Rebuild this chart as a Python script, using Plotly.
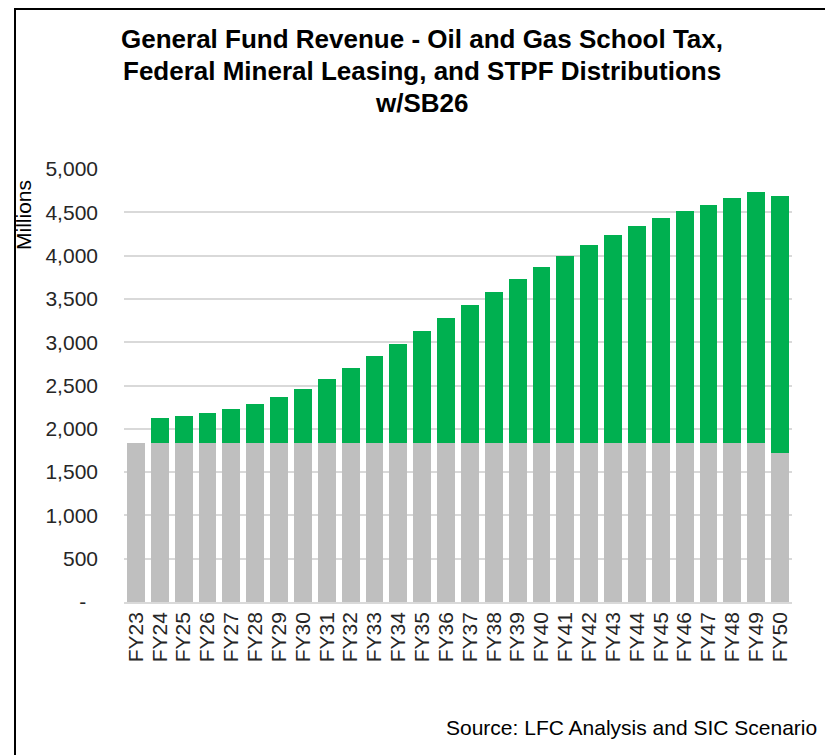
import plotly.graph_objects as go

FONT = "Arial, Liberation Sans, sans-serif"

# fiscal years on the x axis
YEARS = ["FY%d" % y for y in range(23, 51)]

# grey part of each bar (millions)
BASE = [1835, 1835, 1835, 1835, 1835, 1835, 1835, 1835, 1835, 1835,
        1835, 1835, 1835, 1835, 1835, 1835, 1835, 1835, 1835, 1835,
        1835, 1835, 1835, 1835, 1835, 1835, 1835, 1718]

# green part stacked on top (millions)
SB26 = [0, 292, 318, 353, 396, 453, 529, 626, 737, 869,
        1003, 1146, 1291, 1441, 1599, 1746, 1893, 2030, 2161, 2288,
        2403, 2503, 2595, 2680, 2753, 2826, 2903, 2974]

Y_TICKS = [0, 500, 1000, 1500, 2000, 2500, 3000, 3500, 4000, 4500, 5000]
Y_TICK_TEXT = ["-\u00a0\u00a0"] + ["{:,}".format(v) for v in Y_TICKS[1:]]

TITLE_LINES = [
    "General Fund Revenue - Oil and Gas School Tax,",
    "Federal Mineral Leasing, and STPF Distributions",
    "w/SB26",
]

# the page puts the figure 8px in from the top left corner
W, H = 825, 747
L, R, T, B = 116, 41, 161, 153
PW, PH = W - L - R, H - T - B


def px(x):
    # page x pixel -> paper x
    return (x - 8 - L) / PW


def py(y):
    # page y pixel -> paper y
    return (H - B - (y - 8)) / PH


def main():
    fig = go.Figure()
    fig.add_trace(
        go.Bar(x=YEARS, y=BASE, marker=dict(color="#BFBFBF", line=dict(width=0)))
    )
    fig.add_trace(
        go.Bar(x=YEARS, y=SB26, marker=dict(color="#00B050", line=dict(width=0)))
    )

    fig.update_layout(
        width=W,
        height=H,
        barmode="stack",
        bargap=0.25,
        showlegend=False,
        plot_bgcolor="white",
        paper_bgcolor="white",
        margin=dict(l=L, r=R, t=T, b=B),
        font=dict(family=FONT, size=21, color="#262626"),
        xaxis=dict(
            tickmode="array",
            tickvals=YEARS,
            tickangle=-90,
            showline=True,
            linecolor="#D9D9D9",
            linewidth=1.5,
            ticks="",
            tickfont=dict(size=21, color="#262626"),
            ticklabelstandoff=0,
        ),
        yaxis=dict(
            range=[0, 5000],
            tickvals=Y_TICKS,
            ticktext=Y_TICK_TEXT,
            showgrid=True,
            gridcolor="#D9D9D9",
            gridwidth=1.5,
            zeroline=False,
            ticks="",
            tickfont=dict(size=21, color="#262626"),
            ticklabelstandoff=25,
        ),
    )

    # title, one line per annotation
    for line, y in zip(TITLE_LINES, [39.5, 71.4, 103]):
        fig.add_annotation(
            text="<b>%s</b>" % line,
            xref="paper",
            yref="paper",
            x=px(422),
            y=py(y),
            xanchor="center",
            yanchor="middle",
            showarrow=False,
            font=dict(family=FONT, size=26, color="black"),
        )

    # "Millions" axis label near the top left
    fig.add_annotation(
        text="Millions",
        textangle=-90,
        xref="paper",
        yref="paper",
        x=px(23),
        y=py(178),
        xanchor="center",
        yanchor="top",
        showarrow=False,
        font=dict(family=FONT, size=21, color="black"),
    )
    fig.add_annotation(
        text="Source: LFC Analysis and SIC Scenario",
        xref="paper",
        yref="paper",
        x=px(819),
        y=py(727),
        xanchor="right",
        yanchor="middle",
        showarrow=False,
        font=dict(family=FONT, size=21, color="black"),
    )

    # chart frame
    fig.add_shape(
        type="rect",
        xref="paper",
        yref="paper",
        x0=px(15),
        x1=px(827),
        y0=py(770),
        y1=py(9),
        line=dict(color="black", width=2),
        layer="above",
    )

    fig.write_html("out.html")


if __name__ == "__main__":
    main()
